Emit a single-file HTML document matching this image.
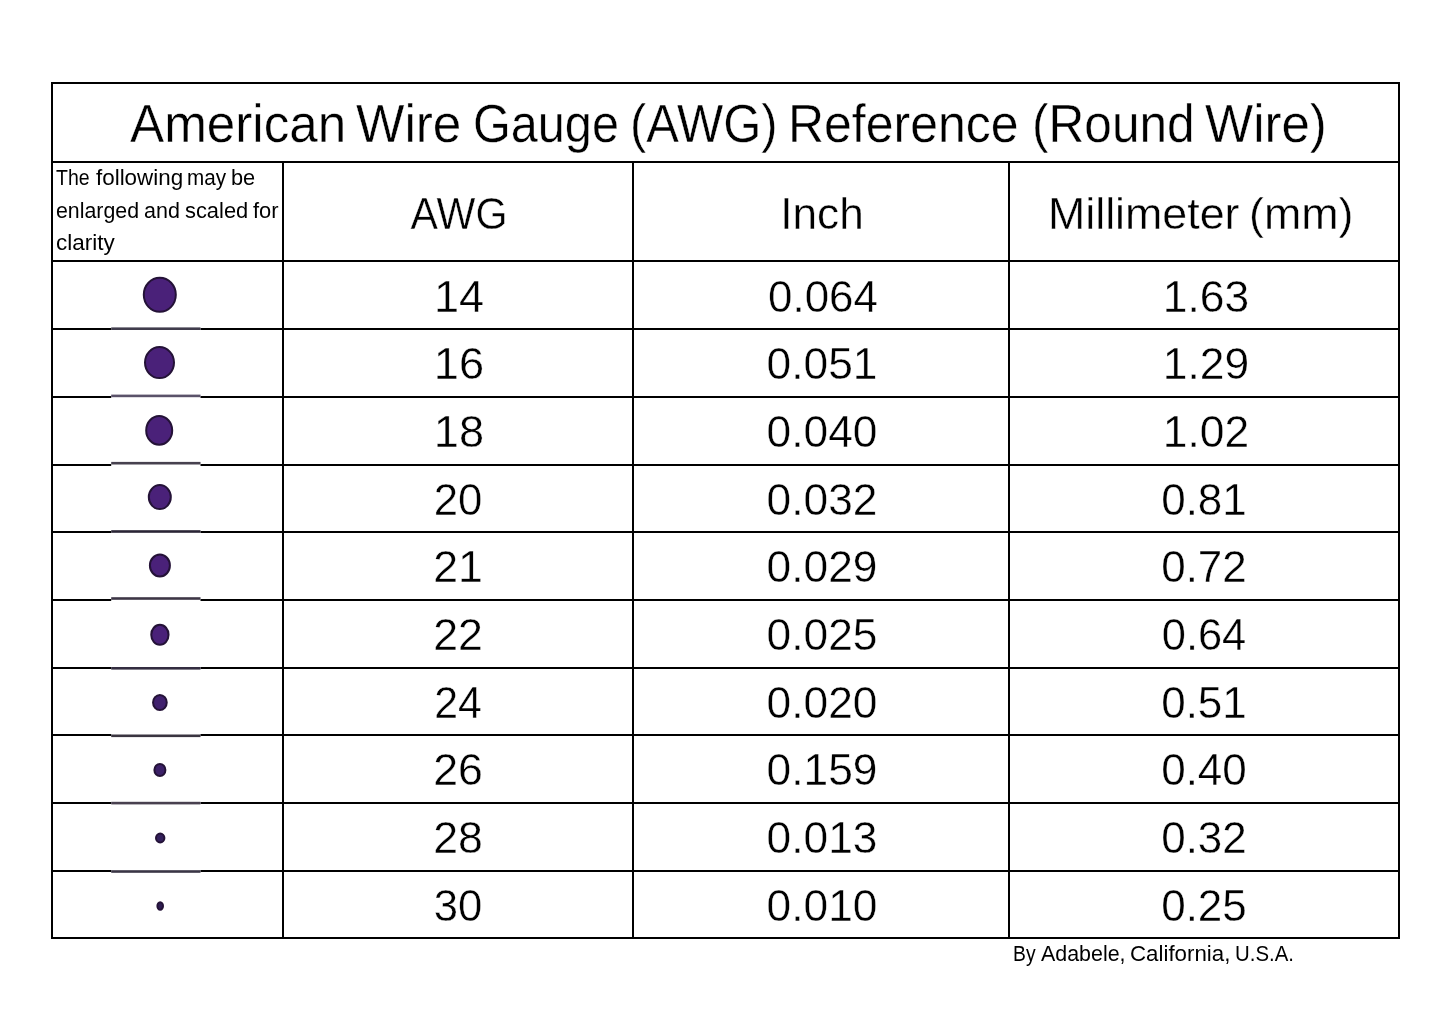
<!DOCTYPE html>
<html><head><meta charset="utf-8"><style>
html,body{margin:0;padding:0;background:#fff;}
body{width:1445px;height:1017px;position:relative;overflow:hidden;font-family:"Liberation Sans",sans-serif;}
.l{position:absolute;background:#000;}
.t{position:absolute;white-space:nowrap;filter:grayscale(1);}
.dots{position:absolute;left:0;top:0;}
</style></head><body>
<div class="l" style="left:51px;top:82px;width:1349px;height:2px"></div>
<div class="l" style="left:51px;top:161px;width:1349px;height:2px"></div>
<div class="l" style="left:51px;top:260px;width:1349px;height:2px"></div>
<div class="l" style="left:51px;top:328px;width:1349px;height:2px"></div>
<div class="l" style="left:51px;top:396px;width:1349px;height:2px"></div>
<div class="l" style="left:51px;top:464px;width:1349px;height:2px"></div>
<div class="l" style="left:51px;top:531px;width:1349px;height:2px"></div>
<div class="l" style="left:51px;top:599px;width:1349px;height:2px"></div>
<div class="l" style="left:51px;top:667px;width:1349px;height:2px"></div>
<div class="l" style="left:51px;top:734px;width:1349px;height:2px"></div>
<div class="l" style="left:51px;top:802px;width:1349px;height:2px"></div>
<div class="l" style="left:51px;top:870px;width:1349px;height:2px"></div>
<div class="l" style="left:51px;top:937px;width:1349px;height:2px"></div>
<div class="l" style="left:51px;top:82px;width:2px;height:857px"></div>
<div class="l" style="left:282px;top:161px;width:2px;height:778px"></div>
<div class="l" style="left:632px;top:161px;width:2px;height:778px"></div>
<div class="l" style="left:1008px;top:161px;width:2px;height:778px"></div>
<div class="l" style="left:1398px;top:82px;width:2px;height:857px"></div>
<div class="t" style="left:130.00px;top:96.51px;font-size:53.5px;line-height:53.5px;transform:scaleX(0.9571);transform-origin:0 50%;color:#000;-webkit-text-stroke:0.4px #fff;">American</div>
<div class="t" style="left:356.40px;top:96.51px;font-size:53.5px;line-height:53.5px;transform:scaleX(0.9585);transform-origin:0 50%;color:#000;-webkit-text-stroke:0.4px #fff;">Wire</div>
<div class="t" style="left:472.50px;top:96.51px;font-size:53.5px;line-height:53.5px;transform:scaleX(0.9083);transform-origin:0 50%;color:#000;-webkit-text-stroke:0.4px #fff;">Gauge</div>
<div class="t" style="left:630.10px;top:96.51px;font-size:53.5px;line-height:53.5px;transform:scaleX(0.9147);transform-origin:0 50%;color:#000;-webkit-text-stroke:0.4px #fff;">(AWG)</div>
<div class="t" style="left:788.40px;top:96.51px;font-size:53.5px;line-height:53.5px;transform:scaleX(0.9336);transform-origin:0 50%;color:#000;-webkit-text-stroke:0.4px #fff;">Reference</div>
<div class="t" style="left:1031.50px;top:96.51px;font-size:53.5px;line-height:53.5px;transform:scaleX(0.9270);transform-origin:0 50%;color:#000;-webkit-text-stroke:0.4px #fff;">(Round</div>
<div class="t" style="left:1204.60px;top:96.51px;font-size:53.5px;line-height:53.5px;transform:scaleX(0.9533);transform-origin:0 50%;color:#000;-webkit-text-stroke:0.4px #fff;">Wire)</div>
<div class="t" style="left:56.30px;top:166.65px;font-size:22.5px;line-height:22.5px;transform:scaleX(0.8656);transform-origin:0 50%;color:#000;">The</div>
<div class="t" style="left:95.50px;top:166.65px;font-size:22.5px;line-height:22.5px;transform:scaleX(0.9951);transform-origin:0 50%;color:#000;">following</div>
<div class="t" style="left:186.80px;top:166.65px;font-size:22.5px;line-height:22.5px;transform:scaleX(0.9178);transform-origin:0 50%;color:#000;">may</div>
<div class="t" style="left:231.30px;top:166.65px;font-size:22.5px;line-height:22.5px;transform:scaleX(0.9680);transform-origin:0 50%;color:#000;">be</div>
<div class="t" style="left:56.30px;top:200.25px;font-size:22.5px;line-height:22.5px;transform:scaleX(0.9477);transform-origin:0 50%;color:#000;">enlarged</div>
<div class="t" style="left:144.40px;top:200.25px;font-size:22.5px;line-height:22.5px;transform:scaleX(0.9546);transform-origin:0 50%;color:#000;">and</div>
<div class="t" style="left:184.70px;top:200.25px;font-size:22.5px;line-height:22.5px;transform:scaleX(0.9720);transform-origin:0 50%;color:#000;">scaled</div>
<div class="t" style="left:253.00px;top:200.25px;font-size:22.5px;line-height:22.5px;transform:scaleX(0.9738);transform-origin:0 50%;color:#000;">for</div>
<div class="t" style="left:56.10px;top:232.35px;font-size:22.5px;line-height:22.5px;transform:scaleX(0.9995);transform-origin:0 50%;color:#000;">clarity</div>
<div class="t" style="left:-1040.60px;top:190.61px;width:3000px;font-size:45px;line-height:45px;text-align:center;transform:scaleX(0.9152);transform-origin:50% 50%;color:#000;-webkit-text-stroke:0.4px #fff;">AWG</div>
<div class="t" style="left:-678.25px;top:190.61px;width:3000px;font-size:45px;line-height:45px;text-align:center;transform:scaleX(0.9812);transform-origin:50% 50%;color:#000;-webkit-text-stroke:0.4px #fff;">Inch</div>
<div class="t" style="left:1048.00px;top:190.61px;font-size:45px;line-height:45px;transform:scaleX(0.9947);transform-origin:0 50%;color:#000;-webkit-text-stroke:0.4px #fff;">Millimeter</div>
<div class="t" style="left:1248.90px;top:190.61px;font-size:45px;line-height:45px;transform:scaleX(0.9942);transform-origin:0 50%;color:#000;-webkit-text-stroke:0.4px #fff;">(mm)</div>
<div class="t" style="left:-1040.95px;top:273.71px;width:3000px;font-size:45px;line-height:45px;text-align:center;transform:scaleX(1.0027);transform-origin:50% 50%;color:#000;-webkit-text-stroke:0.4px #fff;">14</div>
<div class="t" style="left:-677.05px;top:273.71px;width:3000px;font-size:45px;line-height:45px;text-align:center;transform:scaleX(0.9752);transform-origin:50% 50%;color:#000;-webkit-text-stroke:0.4px #fff;">0.064</div>
<div class="t" style="left:-294.50px;top:273.71px;width:3000px;font-size:45px;line-height:45px;text-align:center;transform:scaleX(0.9865);transform-origin:50% 50%;color:#000;-webkit-text-stroke:0.4px #fff;">1.63</div>
<div class="t" style="left:-1040.95px;top:341.38px;width:3000px;font-size:45px;line-height:45px;text-align:center;transform:scaleX(1.0038);transform-origin:50% 50%;color:#000;-webkit-text-stroke:0.4px #fff;">16</div>
<div class="t" style="left:-677.55px;top:341.38px;width:3000px;font-size:45px;line-height:45px;text-align:center;transform:scaleX(0.9843);transform-origin:50% 50%;color:#000;-webkit-text-stroke:0.4px #fff;">0.051</div>
<div class="t" style="left:-294.50px;top:341.38px;width:3000px;font-size:45px;line-height:45px;text-align:center;transform:scaleX(0.9865);transform-origin:50% 50%;color:#000;-webkit-text-stroke:0.4px #fff;">1.29</div>
<div class="t" style="left:-1040.95px;top:409.05px;width:3000px;font-size:45px;line-height:45px;text-align:center;transform:scaleX(1.0038);transform-origin:50% 50%;color:#000;-webkit-text-stroke:0.4px #fff;">18</div>
<div class="t" style="left:-677.55px;top:409.05px;width:3000px;font-size:45px;line-height:45px;text-align:center;transform:scaleX(0.9843);transform-origin:50% 50%;color:#000;-webkit-text-stroke:0.4px #fff;">0.040</div>
<div class="t" style="left:-294.50px;top:409.05px;width:3000px;font-size:45px;line-height:45px;text-align:center;transform:scaleX(0.9865);transform-origin:50% 50%;color:#000;-webkit-text-stroke:0.4px #fff;">1.02</div>
<div class="t" style="left:-1042.35px;top:476.72px;width:3000px;font-size:45px;line-height:45px;text-align:center;transform:scaleX(0.9715);transform-origin:50% 50%;color:#000;-webkit-text-stroke:0.4px #fff;">20</div>
<div class="t" style="left:-677.55px;top:476.72px;width:3000px;font-size:45px;line-height:45px;text-align:center;transform:scaleX(0.9843);transform-origin:50% 50%;color:#000;-webkit-text-stroke:0.4px #fff;">0.032</div>
<div class="t" style="left:-295.70px;top:476.72px;width:3000px;font-size:45px;line-height:45px;text-align:center;transform:scaleX(0.9774);transform-origin:50% 50%;color:#000;-webkit-text-stroke:0.4px #fff;">0.81</div>
<div class="t" style="left:-1041.85px;top:544.39px;width:3000px;font-size:45px;line-height:45px;text-align:center;transform:scaleX(0.9931);transform-origin:50% 50%;color:#000;-webkit-text-stroke:0.4px #fff;">21</div>
<div class="t" style="left:-677.55px;top:544.39px;width:3000px;font-size:45px;line-height:45px;text-align:center;transform:scaleX(0.9843);transform-origin:50% 50%;color:#000;-webkit-text-stroke:0.4px #fff;">0.029</div>
<div class="t" style="left:-295.70px;top:544.39px;width:3000px;font-size:45px;line-height:45px;text-align:center;transform:scaleX(0.9774);transform-origin:50% 50%;color:#000;-webkit-text-stroke:0.4px #fff;">0.72</div>
<div class="t" style="left:-1041.85px;top:612.06px;width:3000px;font-size:45px;line-height:45px;text-align:center;transform:scaleX(0.9936);transform-origin:50% 50%;color:#000;-webkit-text-stroke:0.4px #fff;">22</div>
<div class="t" style="left:-677.55px;top:612.06px;width:3000px;font-size:45px;line-height:45px;text-align:center;transform:scaleX(0.9843);transform-origin:50% 50%;color:#000;-webkit-text-stroke:0.4px #fff;">0.025</div>
<div class="t" style="left:-296.20px;top:612.06px;width:3000px;font-size:45px;line-height:45px;text-align:center;transform:scaleX(0.9655);transform-origin:50% 50%;color:#000;-webkit-text-stroke:0.4px #fff;">0.64</div>
<div class="t" style="left:-1041.85px;top:679.73px;width:3000px;font-size:45px;line-height:45px;text-align:center;transform:scaleX(0.9524);transform-origin:50% 50%;color:#000;-webkit-text-stroke:0.4px #fff;">24</div>
<div class="t" style="left:-677.55px;top:679.73px;width:3000px;font-size:45px;line-height:45px;text-align:center;transform:scaleX(0.9843);transform-origin:50% 50%;color:#000;-webkit-text-stroke:0.4px #fff;">0.020</div>
<div class="t" style="left:-295.70px;top:679.73px;width:3000px;font-size:45px;line-height:45px;text-align:center;transform:scaleX(0.9774);transform-origin:50% 50%;color:#000;-webkit-text-stroke:0.4px #fff;">0.51</div>
<div class="t" style="left:-1041.85px;top:747.40px;width:3000px;font-size:45px;line-height:45px;text-align:center;transform:scaleX(0.9931);transform-origin:50% 50%;color:#000;-webkit-text-stroke:0.4px #fff;">26</div>
<div class="t" style="left:-677.55px;top:747.40px;width:3000px;font-size:45px;line-height:45px;text-align:center;transform:scaleX(0.9843);transform-origin:50% 50%;color:#000;-webkit-text-stroke:0.4px #fff;">0.159</div>
<div class="t" style="left:-295.70px;top:747.40px;width:3000px;font-size:45px;line-height:45px;text-align:center;transform:scaleX(0.9782);transform-origin:50% 50%;color:#000;-webkit-text-stroke:0.4px #fff;">0.40</div>
<div class="t" style="left:-1041.85px;top:815.07px;width:3000px;font-size:45px;line-height:45px;text-align:center;transform:scaleX(0.9931);transform-origin:50% 50%;color:#000;-webkit-text-stroke:0.4px #fff;">28</div>
<div class="t" style="left:-677.55px;top:815.07px;width:3000px;font-size:45px;line-height:45px;text-align:center;transform:scaleX(0.9843);transform-origin:50% 50%;color:#000;-webkit-text-stroke:0.4px #fff;">0.013</div>
<div class="t" style="left:-295.70px;top:815.07px;width:3000px;font-size:45px;line-height:45px;text-align:center;transform:scaleX(0.9774);transform-origin:50% 50%;color:#000;-webkit-text-stroke:0.4px #fff;">0.32</div>
<div class="t" style="left:-1042.35px;top:882.74px;width:3000px;font-size:45px;line-height:45px;text-align:center;transform:scaleX(0.9710);transform-origin:50% 50%;color:#000;-webkit-text-stroke:0.4px #fff;">30</div>
<div class="t" style="left:-677.55px;top:882.74px;width:3000px;font-size:45px;line-height:45px;text-align:center;transform:scaleX(0.9843);transform-origin:50% 50%;color:#000;-webkit-text-stroke:0.4px #fff;">0.010</div>
<div class="t" style="left:-295.70px;top:882.74px;width:3000px;font-size:45px;line-height:45px;text-align:center;transform:scaleX(0.9782);transform-origin:50% 50%;color:#000;-webkit-text-stroke:0.4px #fff;">0.25</div>
<div class="t" style="left:1013.00px;top:942.64px;font-size:22.4px;line-height:22.4px;transform:scaleX(0.8625);transform-origin:0 50%;color:#000;">By</div>
<div class="t" style="left:1041.40px;top:942.64px;font-size:22.4px;line-height:22.4px;transform:scaleX(0.9560);transform-origin:0 50%;color:#000;">Adabele,</div>
<div class="t" style="left:1129.80px;top:942.64px;font-size:22.4px;line-height:22.4px;transform:scaleX(0.9956);transform-origin:0 50%;color:#000;">California,</div>
<div class="t" style="left:1234.70px;top:942.64px;font-size:22.4px;line-height:22.4px;transform:scaleX(0.9115);transform-origin:0 50%;color:#000;">U.S.A.</div>
<svg class="dots" width="1445" height="1017" viewBox="0 0 1445 1017"><ellipse cx="159.8" cy="294.8" rx="16.00" ry="17.00" fill="#4a2179" stroke="#241237" stroke-width="2"/><ellipse cx="159.5" cy="362.6" rx="14.50" ry="15.50" fill="#4a2179" stroke="#241237" stroke-width="2"/><ellipse cx="159.2" cy="430.4" rx="13.00" ry="14.30" fill="#4a2179" stroke="#241237" stroke-width="2"/><ellipse cx="159.8" cy="497.1" rx="11.00" ry="12.00" fill="#4a2179" stroke="#241237" stroke-width="2"/><ellipse cx="159.9" cy="565.5" rx="10.00" ry="10.90" fill="#4a2179" stroke="#241237" stroke-width="2"/><ellipse cx="159.9" cy="634.8" rx="8.65" ry="10.00" fill="#4a2179" stroke="#241237" stroke-width="2"/><ellipse cx="159.9" cy="702.5" rx="6.85" ry="7.50" fill="#41216e" stroke="#241237" stroke-width="2"/><ellipse cx="159.9" cy="770" rx="5.50" ry="6.10" fill="#3c2068" stroke="#241237" stroke-width="2"/><ellipse cx="160.2" cy="838" rx="4.20" ry="4.50" fill="#33205c" stroke="#241237" stroke-width="2"/><ellipse cx="160.2" cy="906" rx="2.80" ry="3.85" fill="#2e1d52" stroke="#241237" stroke-width="2"/><rect x="111.2" y="328" width="89.3" height="2" fill="#fff"/><rect x="111.2" y="327.40" width="89.3" height="2.6" fill="#403c4c"/><rect x="111.2" y="396" width="89.3" height="2" fill="#fff"/><rect x="111.2" y="394.60" width="89.3" height="2.6" fill="#5a5269"/><rect x="111.2" y="464" width="89.3" height="2" fill="#fff"/><rect x="111.2" y="461.90" width="89.3" height="2.6" fill="#47414f"/><rect x="111.2" y="531" width="89.3" height="2" fill="#fff"/><rect x="111.2" y="530.20" width="89.3" height="2.6" fill="#2a2535"/><rect x="111.2" y="599" width="89.3" height="2" fill="#fff"/><rect x="111.2" y="597.20" width="89.3" height="2.6" fill="#3d3646"/><rect x="111.2" y="667" width="89.3" height="2" fill="#fff"/><rect x="111.2" y="667.00" width="89.3" height="2.6" fill="#332d40"/><rect x="111.2" y="734" width="89.3" height="2" fill="#fff"/><rect x="111.2" y="734.50" width="89.3" height="2.6" fill="#3a3540"/><rect x="111.2" y="802" width="89.3" height="2" fill="#fff"/><rect x="111.2" y="801.80" width="89.3" height="2.6" fill="#48404f"/><rect x="111.2" y="870" width="89.3" height="2" fill="#fff"/><rect x="111.2" y="870.20" width="89.3" height="2.6" fill="#3a3545"/></svg>
</body></html>
